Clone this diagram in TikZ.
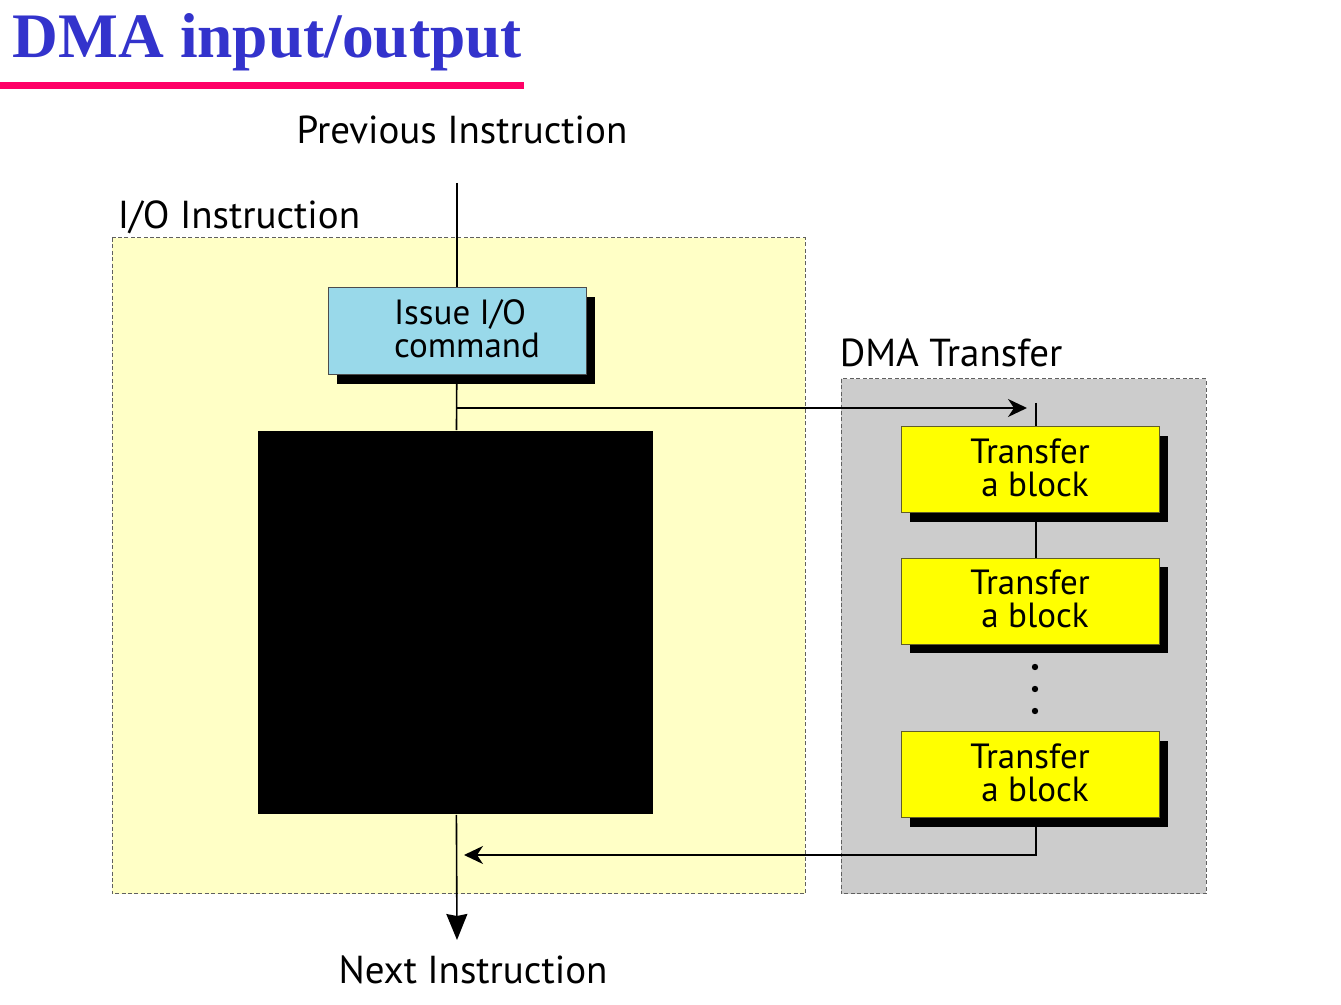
\documentclass[tikz,border=0pt]{standalone}
\usepackage{fontspec}
\setmainfont{PT Sans}
\newfontfamily\titlefont{Liberation Serif}
\usepackage{tikz}
\usetikzlibrary{arrows.meta,shadows}
\usepackage{xcolor}
\definecolor{titleblue}{HTML}{3333CC}
\definecolor{rulepink}{HTML}{FF0066}
\definecolor{ioyellow}{HTML}{FFFFC6}
\definecolor{dmagray}{HTML}{CCCCCC}
\definecolor{cmdblue}{HTML}{99D9EA}
\definecolor{xferyellow}{HTML}{FFFF00}

\begin{document}
\begin{tikzpicture}[x=0.5pt,y=-0.5pt,>={Stealth[length=9.5pt,width=9pt,inset=3pt]},line width=0.8pt,
  lbl/.style={font=\fontsize{19.5}{22}\selectfont,inner sep=0pt},
  region/.style={draw=gray!75!black,dash pattern=on 2pt off 1.2pt,line width=0.5pt},
  boxshadow/.style={drop shadow={shadow xshift=4.5pt,shadow yshift=-4.5pt,fill=black,opacity=1}},
  cmdbox/.style={draw=gray!60!black,line width=0.5pt,fill=cmdblue,boxshadow,minimum width=129pt,minimum height=43.5pt,inner sep=0pt,text height=26.5pt,align=left,font=\fontsize{17.5}{16.5}\selectfont},
  xferbox/.style={draw=olive!60!black,line width=0.5pt,fill=xferyellow,boxshadow,minimum width=129pt,minimum height=43pt,inner sep=0pt,text height=26.5pt,align=center,font=\fontsize{17.5}{16.5}\selectfont}]
\useasboundingbox (0,0) rectangle (1341,1005);
% title
\node (title) [anchor=base west,inner sep=0pt,text=titleblue,font=\titlefont\bfseries\fontsize{31.7}{36}\selectfont] at (12,58) {DMA input/output};
\draw[rulepink,line width=3.5pt,line cap=butt] (0,86) -- (524,86);
% regions
\filldraw[fill=ioyellow,region] (112,238) rectangle (805,894);
\filldraw[fill=dmagray,region] (841,379) rectangle (1206,894);
\node (iolbl) [lbl,anchor=base west] at (117,229) {I/O Instruction};
\node (dmalbl) [lbl,anchor=base west] at (839,367) {DMA Transfer};
\node (prevlbl) [lbl,anchor=base] at (462,144) {Previous Instruction};
\node (nextlbl) [lbl,anchor=base] at (473,984) {Next Instruction};
% blocks
\node (issue) [cmdbox] at (457,331.5) {\hspace*{10pt}Issue I/O\\\hspace*{10pt}command};
\node (cpu) [fill=black,inner sep=0pt,minimum width=197.5pt,minimum height=191.5pt] at (455.5,622.5) {};
\node (xfer1) [xferbox] at (1030,470) {Transfer\\\hspace*{5pt}a block};
\node (xfer2) [xferbox] at (1030,601.5) {Transfer\\\hspace*{5pt}a block};
\node (xfer3) [xferbox] at (1030,775) {Transfer\\\hspace*{5pt}a block};
\foreach \y in {667,689,711}
  \fill (1035,\y) circle (1.6pt);
% flow
\coordinate (prevend) at (457,183);
\coordinate (nextend) at (457,940);
\coordinate (fork) at (457,408);
\coordinate (dmain) at (1036,403);
\coordinate (retend) at (464,855);
\draw (prevend) -- (issue);
\draw (issue) -- (cpu);
\draw[-{Stealth[length=13pt,width=10.5pt,inset=1pt]}] (cpu) -- (nextend);
\draw[->,shorten >=4.5pt] (fork) -- (fork -| dmain);
\draw (dmain) -- (dmain |- xfer1.north);
\draw (xfer1.south -| dmain) -- (xfer2.north -| dmain);
\draw[->] (xfer3.south -| dmain) |- (retend);
\end{tikzpicture}
\end{document}
